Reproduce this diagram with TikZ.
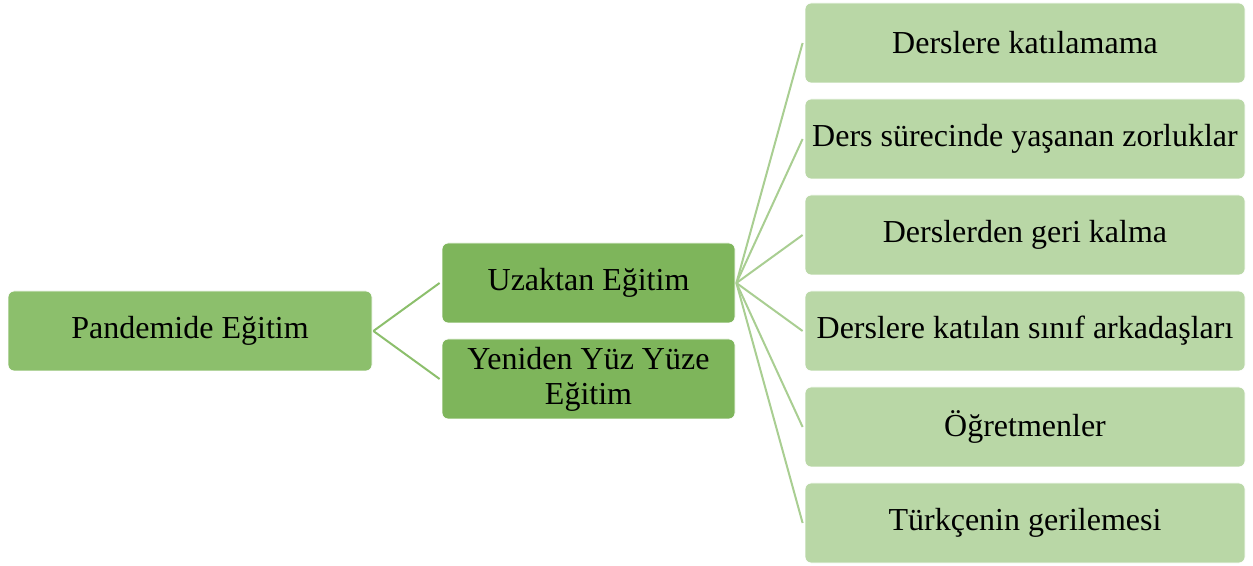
\documentclass[tikz,border=0pt]{standalone}
\usepackage{fontspec}
\setmainfont{Liberation Serif}
\definecolor{rootc}{HTML}{8CBF6C}
\definecolor{midc}{HTML}{7EB55B}
\definecolor{leafc}{HTML}{B9D7A6}
\definecolor{leafline}{HTML}{A9CE92}
\tikzset{
  box/.style={rounded corners=6pt, draw=white, line width=0.8pt, inner sep=0pt, align=center, font=\fontsize{32}{35}\selectfont},
  rootbox/.style={box, fill=rootc},
  midbox/.style={box, fill=midc},
  leafbox/.style={box, fill=leafc},
  rootline/.style={draw=rootc, line width=2pt},
  leafline/.style={draw=leafline, line width=2pt},
}
\begin{document}
\begin{tikzpicture}[x=1pt,y=1pt]
\useasboundingbox (0,0) rectangle (1253,565);
\node[rootbox, minimum width=364pt, minimum height=80pt] (root) at (190,234) {Pandemide Eğitim};
\node[midbox, minimum width=293pt, minimum height=80pt] (uz) at (588.5,282) {Uzaktan Eğitim};
\node[midbox, minimum width=293pt, minimum height=80pt] (yy) at (588.5,186) {Yeniden Yüz Yüze\\Eğitim};
\node[leafbox, minimum width=440pt, minimum height=80pt] (l1) at (1025,522) {Derslere katılamama};
\node[leafbox, minimum width=440pt, minimum height=80pt] (l2) at (1025,426) {Ders sürecinde yaşanan zorluklar};
\node[leafbox, minimum width=440pt, minimum height=80pt] (l3) at (1025,330) {Derslerden geri kalma};
\node[leafbox, minimum width=440pt, minimum height=80pt] (l4) at (1025,234) {Derslere katılan sınıf arkadaşları};
\node[leafbox, minimum width=440pt, minimum height=80pt] (l5) at (1025,138) {Öğretmenler};
\node[leafbox, minimum width=440pt, minimum height=80pt] (l6) at (1025,42) {Türkçenin gerilemesi};
\draw[rootline] ([xshift=1pt]root.east) -- ([xshift=-2pt]uz.west);
\draw[rootline] ([xshift=1pt]root.east) -- ([xshift=-2pt]yy.west);
\foreach \l in {l1,l2,l3,l4,l5,l6}{
  \draw[leafline] ([xshift=1pt]uz.east) -- ([xshift=-2pt]\l.west);
}
\end{tikzpicture}
\end{document}
